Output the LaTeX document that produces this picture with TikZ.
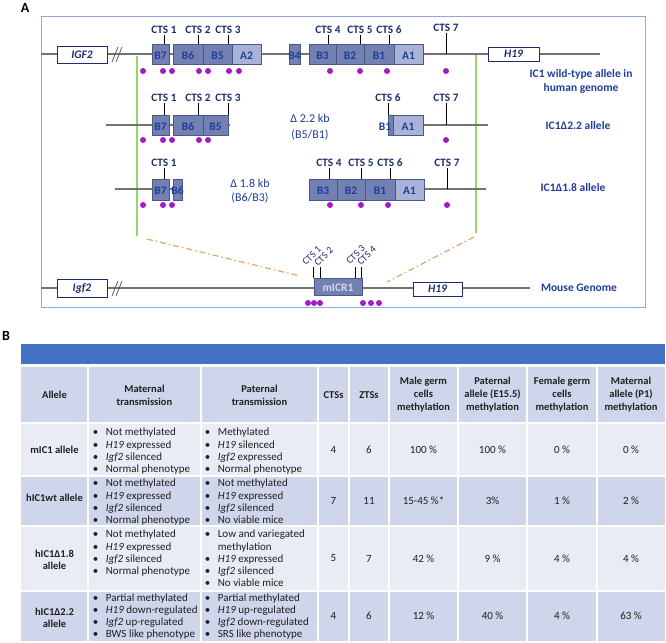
\documentclass[tikz,border=0pt]{standalone}
\usepackage{fontspec}
\setmainfont{Carlito}
\usepackage{xcolor}
\usepackage{tikz}
\usetikzlibrary{positioning}

\definecolor{frm}{HTML}{8FAADC}
\definecolor{segd}{HTML}{7280B2}
\definecolor{segl}{HTML}{A9B2D7}
\definecolor{segb}{HTML}{4C5788}
\definecolor{navy}{HTML}{1F2D6E}
\definecolor{segt}{HTML}{1F3D9A}
\definecolor{grn}{HTML}{9BD36B}
\definecolor{org}{HTML}{E3A662}
\definecolor{dotc}{HTML}{A21CC4}
\definecolor{bar}{HTML}{4472C4}
\definecolor{rowd}{HTML}{CFD5EA}
\definecolor{rowl}{HTML}{E9EBF5}
\definecolor{ink}{HTML}{202020}

\newcommand{\itm}{\textbullet\hspace{7.5pt}}
\newcommand{\itx}{\phantom{\textbullet}\hspace{7.5pt}}

\begin{document}
\begin{tikzpicture}[x=1pt, y=-1pt,
  sl/.style={font=\bfseries\fontsize{11.5}{13}\selectfont, text=segt, inner sep=0pt, yshift=-1.5pt},
  seg/.style={draw=segb, fill=segd, inner sep=0pt, minimum height=20pt,
              label={[sl]center:#1}},
  segA/.style={seg=#1, fill=segl},
  gene/.style={draw=navy, fill=white, inner sep=0pt, minimum height=16pt,
               font=\bfseries\itshape\fontsize{11.5}{13}\selectfont, text=navy},
  cts/.style={font=\bfseries\fontsize{11.3}{13}\selectfont, text=navy,
              inner sep=1pt, anchor=south},
  mcts/.style={font=\fontsize{10}{12}\selectfont, text=navy,
               inner sep=0pt, anchor=base west, rotate=45},
  tk/.style={line width=1pt},
  brk/.style={black!65, line width=0.8pt},
  gl/.style={black!55, line width=1.3pt},
  dt/.style={fill=dotc},
  lab/.style={font=\bfseries\fontsize{11.5}{13.5}\selectfont, text=segt, align=center},
  dl/.style={font=\fontsize{12}{14}\selectfont, text=segt, align=center},
  grl/.style={grn, line width=1.2pt},
  odl/.style={org, line width=1.2pt, dash pattern=on 6pt off 3pt on 1.5pt off 3pt},
  pl/.style={font=\bfseries\fontsize{14}{16}\selectfont},
  th/.style={font=\bfseries\fontsize{10.5}{13}\selectfont, text=ink, align=center},
  td/.style={font=\fontsize{11}{12.2}\selectfont, text=ink, align=center},
  tdb/.style={font=\bfseries\fontsize{10.5}{12.2}\selectfont, text=ink, align=center},
  bl/.style={font=\fontsize{11}{12.2}\selectfont, text=ink, align=left,
             anchor=north west, inner sep=0pt},
  sep/.style={white, line width=1.5pt}]
\useasboundingbox (0,0) rectangle (666,642);

% ---- A: human IC1 alleles and the mouse locus ----------------------------
\node[pl] (PA) at (25,8) {A};
\draw[frm, line width=1pt] (41,17) rectangle (645,307);

% green and dash-dot guides
\coordinate (GL0) at (137,56);  \coordinate (GL1) at (137,236);
\coordinate (GR0) at (476,54);  \coordinate (GR1) at (476,233);
\draw[grl] (GL0) -- (GL1);
\draw[grl] (GR0) -- (GR1);
\coordinate (OL0) at (147,239); \coordinate (OL1) at (300,276);
\coordinate (OR0) at (474,237); \coordinate (OR1) at (387,282);
\draw[odl] (OL0) -- (OL1);
\draw[odl] (OR0) -- (OR1);

% wild-type allele
\coordinate (W0) at (41,54);
\coordinate (W1) at (600,54);
\draw[gl] (W0) -- (W1);
\node[gene, minimum width=50pt, minimum height=17pt] (IGF) at (82,54.5) {IGF2};
\draw[brk] (112,62) -- (118,47) (116,62) -- (122,47);
\node[seg=B7, minimum width=17pt] (B7w) at (160.5,54) {};
\node[seg=B6, minimum width=30pt] (B6w) at (188,54) {};
\node[seg=B5, minimum width=29pt] (B5w) at (217.5,54) {};
\node[segA=A2, minimum width=29pt] (A2w) at (246.5,54) {};
\node[seg=B4, minimum width=11pt] (B4w) at (294.5,54) {};
\node[seg=B3, minimum width=27pt] (B3w) at (322.5,54) {};
\node[seg=B2, minimum width=28pt] (B2w) at (350,54) {};
\node[seg=B1, minimum width=30pt] (B1w) at (379,54) {};
\node[segA=A1, minimum width=29pt] (A1w) at (408.5,54) {};
\node[gene, minimum width=51pt, minimum height=14pt] (H19w) at (513.5,54) {H19};
\node[cts] (C1w) at (164,35) {CTS 1};
\node[cts] (C2w) at (198,35) {CTS 2};
\node[cts] (C3w) at (228,35) {CTS 3};
\node[cts] (C4w) at (328,35) {CTS 4};
\node[cts] (C5w) at (360,35) {CTS 5};
\node[cts] (C6w) at (389,35) {CTS 6};
\node[cts] (C7w) at (446,33) {CTS 7};
\draw[tk] (C1w.south) -- (C1w.south |- B7w.north);
\draw[tk] (C2w.south) -- (C2w.south |- B6w.north);
\draw[tk] (C3w.south) -- (C3w.south |- B5w.north);
\draw[tk] (C4w.south) -- (C4w.south |- B3w.north);
\draw[tk] (C5w.south) -- (C5w.south |- B2w.north);
\draw[tk] (C6w.south) -- (C6w.south |- B1w.north);
\draw[tk] (C7w.south) -- (C7w.south |- W0);
\fill[dt] (143,71) circle (3pt) (163,71) circle (3pt) (172,71) circle (3pt)
  (199,71) circle (3pt) (208,71) circle (3pt) (229,71) circle (3pt) (239,71) circle (3pt)
  (330,71) circle (3pt) (360,71) circle (3pt) (387,71) circle (3pt) (446,71) circle (3pt);
\node[lab] (Lw) at (581,81.5) {IC1 wild-type allele in\\human genome};

% delta 2.2 allele
\coordinate (D0) at (106,125); \coordinate (D1) at (230,125);
\coordinate (D2) at (390,125); \coordinate (D3) at (488,125);
\draw[gl] (D0) -- (D1) (D2) -- (D3);
\node[seg=B7, minimum width=17pt] (B7d) at (160.5,125) {};
\node[seg=B6, minimum width=30pt] (B6d) at (188,125) {};
\node[seg=B5, minimum width=25pt] (B5d) at (215.5,125) {};
\node[seg=, minimum width=5pt] (B1d) at (390.5,125) {};
\node[sl] (B1dt) at (385,125) {B1};
\node[segA=A1, minimum width=30pt] (A1d) at (408,125) {};
\node[cts] (C1d) at (164,103) {CTS 1};
\node[cts] (C2d) at (198,103) {CTS 2};
\node[cts] (C3d) at (228,103) {CTS 3};
\node[cts] (C6d) at (388,103) {CTS 6};
\node[cts] (C7d) at (446,103) {CTS 7};
\draw[tk] (C1d.south) -- (C1d.south |- B7d.north);
\draw[tk] (C2d.south) -- (C2d.south |- B6d.north);
\draw[tk] (C3d.south) -- (C3d.south |- B5d.north);
\draw[tk] (C6d.south) -- (C6d.south |- B1d.north);
\draw[tk] (C7d.south) -- (C7d.south |- D3);
\fill[dt] (143,140) circle (3pt) (163,140) circle (3pt) (172,140) circle (3pt)
  (199,140) circle (3pt) (208,140) circle (3pt) (446,140) circle (3pt);
\node[dl] (Dd) at (310,127.5) {Δ 2.2 kb\\[2pt](B5/B1)};
\node[lab] (Ld) at (578,126) {IC1Δ2.2 allele};

% delta 1.8 allele
\coordinate (E0) at (115,189); \coordinate (E1) at (182,189);
\coordinate (E2) at (424,189); \coordinate (E3) at (486,189);
\draw[gl] (E0) -- (E1) (E2) -- (E3);
\node[seg=B7, minimum width=17pt, minimum height=21pt] (B7e) at (160.5,189.5) {};
\node[seg=B6, minimum width=9pt, minimum height=21pt] (B6e) at (177.5,189.5) {};
\node[seg=B3, minimum width=28pt, minimum height=21pt] (B3e) at (323,189.5) {};
\node[seg=B2, minimum width=28pt, minimum height=21pt] (B2e) at (351,189.5) {};
\node[seg=B1, minimum width=30pt, minimum height=21pt] (B1e) at (380,189.5) {};
\node[segA=A1, minimum width=29pt, minimum height=21pt] (A1e) at (409.5,189.5) {};
\node[cts] (C1e) at (164,168) {CTS 1};
\node[cts] (C4e) at (329,168) {CTS 4};
\node[cts] (C5e) at (361,168) {CTS 5};
\node[cts] (C6e) at (390,168) {CTS 6};
\node[cts] (C7e) at (447,168) {CTS 7};
\draw[tk] (C1e.south) -- (C1e.south |- B7e.north);
\draw[tk] (C4e.south) -- (C4e.south |- B3e.north);
\draw[tk] (C5e.south) -- (C5e.south |- B2e.north);
\draw[tk] (C6e.south) -- (C6e.south |- B1e.north);
\draw[tk] (C7e.south) -- (C7e.south |- E3);
\fill[dt] (143,205) circle (3pt) (163,205) circle (3pt) (172,205) circle (3pt)
  (330,205) circle (3pt) (361,205) circle (3pt) (388,205) circle (3pt) (447,205) circle (3pt);
\node[dl] (De) at (250,191.5) {Δ 1.8 kb\\(B6/B3)};
\node[lab] (Le) at (573,188) {IC1Δ1.8 allele};

% mouse genome
\coordinate (M0) at (41,288);
\coordinate (M1) at (530,288);
\draw[gl] (M0) -- (M1);
\node[gene, minimum width=50pt, minimum height=18pt] (Igf) at (82,288) {Igf2};
\draw[brk] (112,296) -- (118,281) (116,296) -- (122,281);
\node[seg=, minimum width=48pt, minimum height=17pt] (MIC) at (338,286.5) {};
\node[sl, text=white!80!segt] (MICt) at (338,286.5) {mICR1};
\node[gene, minimum width=49pt, minimum height=14pt] (H19m) at (437.5,289) {H19};
\node[mcts] (M1c) at (306,266) {CTS 1};
\node[mcts] (M2c) at (318,267) {CTS 2};
\node[mcts] (M3c) at (350,265) {CTS 3};
\node[mcts] (M4c) at (361,266) {CTS 4};
\draw[tk] (MIC.north west) -- ++(0,-11);
\draw[tk] ([xshift=7pt]MIC.north west) -- ++(0,-11);
\draw[tk] ([xshift=-7pt]MIC.north east) -- ++(0,-11);
\draw[tk] ([xshift=-1pt]MIC.north east) -- ++(0,-11);
\fill[dt] (308,303) circle (3pt) (314,303) circle (3pt) (320,303) circle (3pt)
  (363,303) circle (3pt) (371,303) circle (3pt) (379,303) circle (3pt);
\node[lab] (Lm) at (579,288) {Mouse Genome};

% ---- B: allele table -----------------------------------------------------
\node[pl] (PB) at (6,336) {B};
\fill[bar] (21,344) rectangle (665,364);
\fill[rowd] (21,367) rectangle (665,423);
\fill[rowl] (21,423) rectangle (665,476);
\fill[rowd] (21,476) rectangle (665,526);
\fill[rowl] (21,526) rectangle (665,591);
\fill[rowd] (21,591) rectangle (665,641);
\draw[sep] (21,423) -- (665,423) (21,476) -- (665,476)
  (21,526) -- (665,526) (21,591) -- (665,591);
\draw[sep] (88,367) -- (88,641) (201,367) -- (201,641) (318,367) -- (318,641)
  (349,367) -- (349,641) (389,367) -- (389,641) (458,367) -- (458,641)
  (527,367) -- (527,641) (597,367) -- (597,641);

% header row
\node[th] (H1) at (54.5,395) {Allele};
\node[th] (H2) at (144.5,395) {Maternal\\transmission};
\node[th] (H3) at (259.5,395) {Paternal\\transmission};
\node[th] (H4) at (333.5,395) {CTSs};
\node[th] (H5) at (369,395) {ZTSs};
\node[th] (H6) at (423.5,395) {Male germ\\cells\\methylation};
\node[th] (H7) at (492.5,395) {Paternal\\allele (E15.5)\\methylation};
\node[th] (H8) at (562,395) {Female germ\\cells\\methylation};
\node[th] (H9) at (631,395) {Maternal\\allele (P1)\\methylation};

% mIC1
\node[tdb] (R1a) at (54.5,449.5) {mIC1 allele};
\node[bl] (R1b) at (92.7,428) {\itm Not methylated\\\itm\textit{H19} expressed\\\itm\textit{Igf2} silenced\\\itm Normal phenotype};
\node[bl] (R1c) at (204.7,428) {\itm Methylated\\\itm\textit{H19} silenced\\\itm\textit{Igf2} expressed\\\itm Normal phenotype};
\node[td] (R1d) at (333.5,449.5) {4};
\node[td] (R1e) at (369,449.5) {6};
\node[td] (R1f) at (423.5,449.5) {100 \%};
\node[td] (R1g) at (492.5,449.5) {100 \%};
\node[td] (R1h) at (562,449.5) {0 \%};
\node[td] (R1i) at (631,449.5) {0 \%};

% hIC1wt
\node[tdb] (R2a) at (54.5,498) {hIC1wt allele};
\node[bl] (R2b) at (92.7,479) {\itm Not methylated\\\itm\textit{H19} expressed\\\itm\textit{Igf2} silenced\\\itm Normal phenotype};
\node[bl] (R2c) at (204.7,479) {\itm Not methylated\\\itm\textit{H19} expressed\\\itm\textit{Igf2} silenced\\\itm No viable mice};
\node[td] (R2d) at (333.5,501) {7};
\node[td] (R2e) at (369,501) {11};
\node[td] (R2f) at (423.5,501) {15-45 \%*};
\node[td] (R2g) at (492.5,501) {3\%};
\node[td] (R2h) at (562,501) {1 \%};
\node[td] (R2i) at (631,501) {2 \%};

% hIC1 delta 1.8
\node[tdb] (R3a) at (54.5,560) {hIC1Δ1.8\\allele};
\node[bl] (R3b) at (92.7,530) {\itm Not methylated\\\itm\textit{H19} expressed\\\itm\textit{Igf2} silenced\\\itm Normal phenotype};
\node[bl] (R3c) at (204.7,530) {\itm Low and variegated\\\itx methylation\\\itm\textit{H19} expressed\\\itm\textit{Igf2} silenced\\\itm No viable mice};
\node[td] (R3d) at (333.5,558.5) {5};
\node[td] (R3e) at (369,558.5) {7};
\node[td] (R3f) at (423.5,558.5) {42 \%};
\node[td] (R3g) at (492.5,558.5) {9 \%};
\node[td] (R3h) at (562,558.5) {4 \%};
\node[td] (R3i) at (631,558.5) {4 \%};

% hIC1 delta 2.2
\node[tdb] (R4a) at (54.5,618) {hIC1Δ2.2\\allele};
\node[bl] (R4b) at (92.7,593.5) {\itm Partial methylated\\\itm\textit{H19} down-regulated\\\itm\textit{Igf2} up-regulated\\\itm BWS like phenotype};
\node[bl] (R4c) at (204.7,593.5) {\itm Partial methylated\\\itm\textit{H19} up-regulated\\\itm\textit{Igf2} down-regulated\\\itm SRS like phenotype};
\node[td] (R4d) at (333.5,616) {4};
\node[td] (R4e) at (369,616) {6};
\node[td] (R4f) at (423.5,616) {12 \%};
\node[td] (R4g) at (492.5,616) {40 \%};
\node[td] (R4h) at (562,616) {4 \%};
\node[td] (R4i) at (631,616) {63 \%};

\end{tikzpicture}
\end{document}
